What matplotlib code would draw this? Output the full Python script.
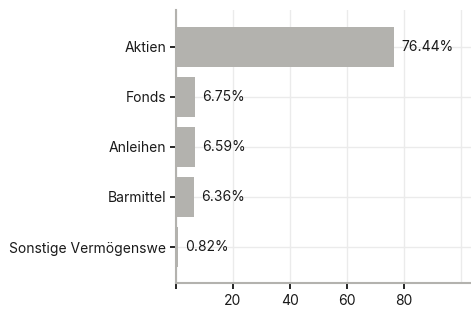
import matplotlib
matplotlib.use("Agg")
import matplotlib.pyplot as plt

categories = ["Aktien", "Fonds", "Anleihen", "Barmittel", "Sonstige Vermögenswe"]
values = [76.44, 6.75, 6.59, 6.36, 0.82]
labels = ["76.44%", "6.75%", "6.59%", "6.36%", "0.82%"]
xticks = [0, 20, 40, 60, 80]
xticklabels = ["", "20", "40", "60", "80"]

plt.rcParams['font.family'] = ['Inter', 'DejaVu Sans']

fig = plt.figure(figsize=(4.71, 3.14), dpi=100)
ax = fig.add_axes([176/471, 31/314, 295/471, 273/314])

pos = list(range(len(categories)))
ax.barh(pos, values, height=0.8, color="#b3b2ae", zorder=2)
for p, v, l in zip(pos, values, labels):
    ax.text(v + 2.5, p, l, va="center", ha="left", fontsize=10, color="#1a1a1a", zorder=3)

ax.set_yticks(pos)
ax.set_yticklabels(categories, fontsize=10, color="#1a1a1a")
ax.set_xticks(xticks)
ax.set_xticklabels(xticklabels, fontsize=10, color="#1a1a1a")
ax.set_xlim(0, 103.5)
ax.set_ylim(4.72, -0.74)

ax.grid(True, color="#ebebeb", linewidth=1, zorder=0)
ax.axvline(100, color="#ebebeb", linewidth=1, zorder=0)
ax.set_axisbelow(True)

for s in ["top", "right"]:
    ax.spines[s].set_visible(False)
ax.spines["left"].set_color("#b3b2ae")
ax.spines["bottom"].set_color("#b3b2ae")
ax.spines["left"].set_linewidth(1.5)
ax.spines["bottom"].set_linewidth(1.5)
ax.tick_params(axis="both", length=4, width=1.2, color="#000000")
ax.tick_params(axis="y", pad=3)
ax.tick_params(axis="x", pad=4)

fig.savefig("out.png", dpi=100)
